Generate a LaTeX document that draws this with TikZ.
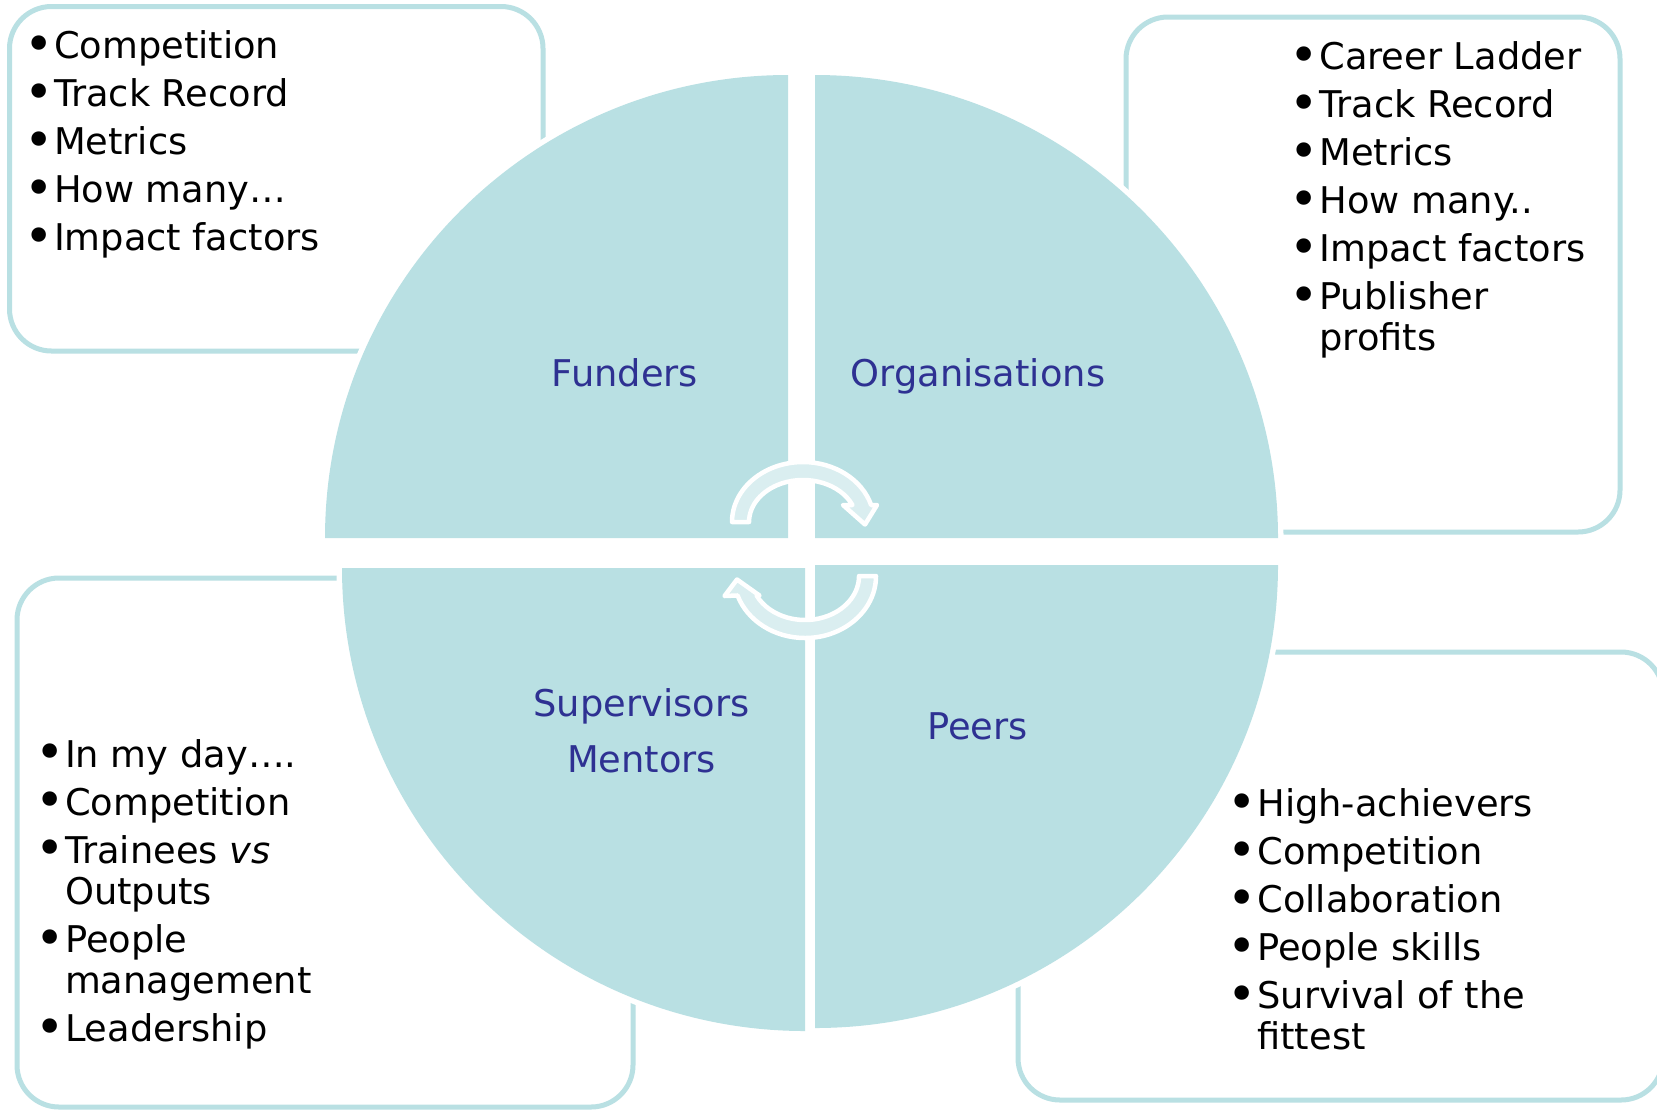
\documentclass[tikz,border=0pt]{standalone}
\usepackage{graphicx}
\usepackage{fontspec}
\setmainfont{DejaVu Sans}
\definecolor{quad}{RGB}{185,224,227}
\definecolor{arrowfill}{RGB}{218,238,240}
\definecolor{labelblue}{RGB}{46,49,146}
\newcommand\bul{\makebox[10.86pt]{\raisebox{-0.08em}{\scalebox{1.35}{•}}}}
\begin{document}
\begin{tikzpicture}[x=0.5pt,y=-0.5pt,
  listbox/.style={draw=quad, line width=2.5pt, rounded corners=21pt},
  quadrant/.style={fill=quad, preaction={draw=white, line width=5.5pt}},
  cyclearrow/.style={fill=arrowfill, draw=white, line width=2.25pt, line join=round},
  listtext/.style={anchor=base west, inner sep=0pt, font=\fontsize{18.4}{24}\selectfont, text=black},
  quadlabel/.style={anchor=base, inner sep=0pt, font=\fontsize{18.4}{24}\selectfont, text=labelblue}]
\fill[white] (0,0) rectangle (1657,1110);
\useasboundingbox (0,0) rectangle (1657,1110);

% boxes
\draw[listbox] (9.5,6.5) rectangle (543,351);
\draw[listbox] (1126,17) rectangle (1620,532);
\draw[listbox] (17,578) rectangle (633,1107);
\draw[listbox] (1018,652) rectangle (1663,1100);

% quadrants
\path[quadrant] (788,538) -- (325,538) arc[start angle=180, end angle=270, radius=463] -- cycle;
\path[quadrant] (815,538) -- (815,75) arc[start angle=270, end angle=360, radius=463] -- cycle;
\path[quadrant] (805,568) -- (342,568) arc[start angle=180, end angle=90, radius=463] -- cycle;
\path[quadrant] (815,565) -- (1278,565) arc[start angle=0, end angle=90, radius=463] -- cycle;

% cycle arrows
\path[cyclearrow] (732,522) arc[start angle=180, end angle=343.54, x radius=71, y radius=60]
  -- (877,505) -- (865,524.5) -- (843,505) -- (852.4,505)
  arc[start angle=336.12, end angle=180, x radius=54, y radius=42] -- cycle;
\path[cyclearrow] (876,576) arc[start angle=0, end angle=161.7, x radius=71, y radius=62]
  -- (724.5,596) -- (737,579.5) -- (759.5,595.5) -- (756.6,595.5)
  arc[start angle=153.7, end angle=0, x radius=54, y radius=44] -- cycle;

% lists
\node[listtext] (tlList) at (27.7,58.3) {\begin{tabular}[t]{@{}l@{\hspace{2.1pt}}l@{}}
\bul&Competition\\
\bul&Track Record\\
\bul&Metrics\\
\bul&How many…\\
\bul&Impact factors
\end{tabular}};
\node[listtext] (trList) at (1293,69.5) {\begin{tabular}[t]{@{}l@{\hspace{2.1pt}}l@{}}
\bul&Career Ladder\\
\bul&Track Record\\
\bul&Metrics\\
\bul&How many..\\
\bul&Impact factors\\
\bul&Publisher\\[-3.4pt]
&profits
\end{tabular}};
\node[listtext] (blList) at (38.8,767) {\begin{tabular}[t]{@{}l@{\hspace{2.1pt}}l@{}}
\bul&In my day….\\
\bul&Competition\\
\bul&Trainees \textit{vs}\\[-3.4pt]
&Outputs\\
\bul&People\\[-3.4pt]
&management\\
\bul&Leadership
\end{tabular}};
\node[listtext] (brList) at (1231,816.7) {\begin{tabular}[t]{@{}l@{\hspace{2.1pt}}l@{}}
\bul&High-achievers\\
\bul&Competition\\
\bul&Collaboration\\
\bul&People skills\\
\bul&Survival of the\\[-3.4pt]
&fittest
\end{tabular}};

% quadrant labels
\node[quadlabel] (funders) at (625,386.5) {Funders};
\node[quadlabel] (organisations) at (978,386.5) {Organisations};
\node[quadlabel] (supervisors) at (641.5,716) {Supervisors};
\node[quadlabel] (mentors) at (641.5,772) {Mentors};
\node[quadlabel] (peers) at (977.5,739.5) {Peers};
\end{tikzpicture}
\end{document}
